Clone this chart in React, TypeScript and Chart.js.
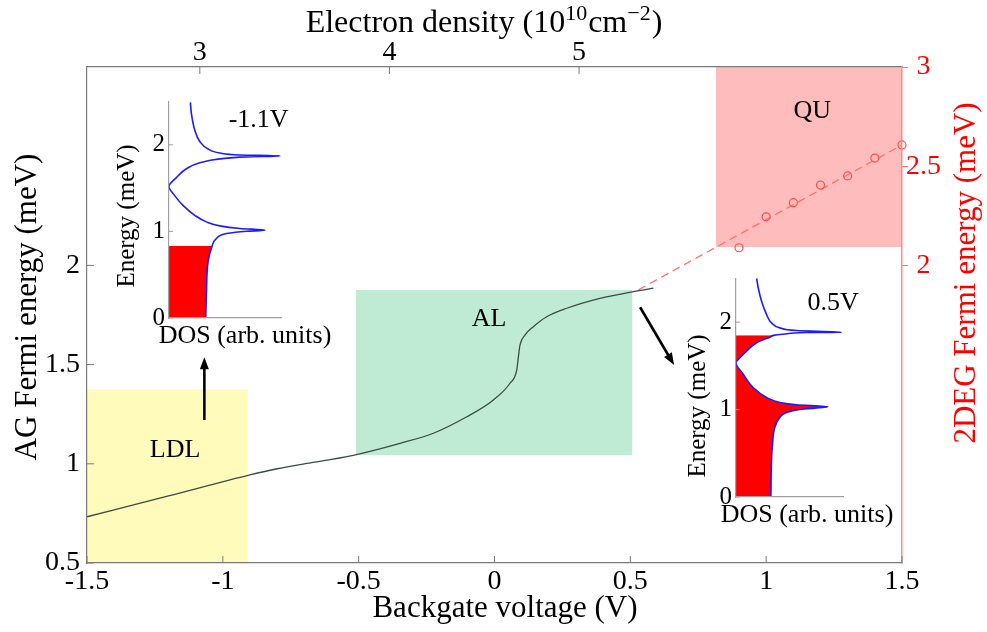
import React, { useEffect, useRef } from 'react';
import { Chart, registerables } from 'chart.js';

Chart.register(...registerables);

const SERIF = '"Liberation Serif", "Times New Roman", Times, serif';
Chart.defaults.font.family = SERIF;

// ---------- Main panel: AG Fermi energy vs backgate voltage ----------
const gateVoltage = [-1.5, -1.2, -0.9, -0.8, -0.7, -0.6, -0.5, -0.348, -0.225, -0.102, -0.004, 0.057, 0.082, 0.088, 0.094, 0.112, 0.143, 0.192, 0.266, 0.388, 0.511, 0.585];
const agFermiEnergy = [0.733, 0.838, 0.944, 0.975, 1.0, 1.022, 1.049, 1.103, 1.154, 1.237, 1.322, 1.406, 1.473, 1.54, 1.599, 1.649, 1.691, 1.741, 1.784, 1.834, 1.868, 1.885];

// 2DEG Fermi energy (right axis)
const degVoltage = [0.9, 1.0, 1.1, 1.2, 1.3, 1.4, 1.5];
const degFermiEnergy = [2.089, 2.245, 2.316, 2.405, 2.451, 2.541, 2.607];
const fitVoltage = [0.53, 1.5];
const fitEnergy = [1.877, 2.607];

// shaded regimes
const regionNames = ['LDL', 'AL', 'QU'];
const regionVoltageFrom = [-1.5, -0.51, 0.815];
const regionVoltageTo = [-0.908, 0.508, 1.5];
const regionEnergyFrom = [0.5, 1.044, 2.093];
const regionEnergyTo = [1.375, 1.876, 3.0];
const regionColors = ['#fffbbb', '#bfebd4', '#ffbcbc'];
const regionLabelVoltage = [-1.176, -0.02, 1.17];
const regionLabelEnergy = [1.07, 1.727, 2.775];

// arrows
const arrowFromVoltage = [-1.068, 0.536];
const arrowFromEnergy = [1.221, 1.789];
const arrowToVoltage = [-1.068, 0.661];
const arrowToEnergy = [1.537, 1.498];

// axes
const voltageTicks = [-1.5, -1, -0.5, 0, 0.5, 1, 1.5];
const agEnergyTicks = [0.5, 1, 1.5, 2];
const degEnergyTicks = [2, 2.5, 3];
const densityTicks = [3, 4, 5];
const voltageRange = [-1.5, 1.5];
const energyRange = [0.5, 3];
const densityRange = [2.405, 6.703];

// ---------- Insets: DOS vs energy ----------
const insetVoltageLabels = ['-1.1V', '0.5V'];
const insetEnergyTicks = [0, 1, 2];

const lowInsetEnergy = [0, 0.28, 0.65, 0.805, 0.919, 0.975, 1.002, 1.013, 1.034, 1.064, 1.11, 1.186, 1.3, 1.413, 1.519, 1.621, 1.723, 1.792, 1.837, 1.86, 1.871, 1.883, 1.905, 1.951, 2.038, 2.17, 2.36, 2.49];
const lowInsetDos = [0.328, 0.334, 0.349, 0.379, 0.424, 0.513, 0.693, 0.857, 0.633, 0.454, 0.334, 0.23, 0.125, 0.051, 0, 0.066, 0.155, 0.275, 0.454, 0.693, 0.991, 0.633, 0.454, 0.349, 0.275, 0.23, 0.2, 0.191];
const lowFilledEnergy = [0, 0.28, 0.65, 0.805, 0.83];
const lowFilledDos = [0.328, 0.334, 0.349, 0.379, 0.388];

const highInsetEnergy = [0, 0.417, 0.569, 0.797, 0.911, 0.968, 1.002, 1.032, 1.055, 1.082, 1.139, 1.252, 1.404, 1.537, 1.594, 1.67, 1.765, 1.829, 1.852, 1.867, 1.882, 1.886, 1.905, 1.935, 1.992, 2.087, 2.239, 2.391, 2.5];
const highInsetDos = [0.326, 0.332, 0.339, 0.363, 0.41, 0.472, 0.596, 0.86, 0.565, 0.41, 0.286, 0.161, 0.068, 0, 0.037, 0.099, 0.193, 0.317, 0.363, 0.472, 0.658, 0.984, 0.565, 0.41, 0.332, 0.286, 0.239, 0.208, 0.193];
const highFilledEnergy = [0, 0.417, 0.569, 0.797, 0.911, 0.968, 1.002, 1.032, 1.055, 1.082, 1.139, 1.252, 1.404, 1.537, 1.594, 1.67, 1.765, 1.829, 1.852];
const highFilledDos = [0.326, 0.332, 0.339, 0.363, 0.41, 0.472, 0.596, 0.86, 0.565, 0.41, 0.286, 0.161, 0.068, 0, 0.037, 0.099, 0.193, 0.317, 0.363];
const insetLabelDos = [0.8, 0.907];
const insetLabelEnergy = [2.29, 2.216];

const AXIS_GRAY = '#7a7a7a';
const RED = '#ff0000';

const pts = (xs: number[], ys: number[]) => xs.map((x, i) => ({ x, y: ys[i] }));
const fixTicks = (values: number[]) => (scale: any) => {
  scale.ticks = values.map((v) => ({ value: v }));
};
const plainLabel = (v: any) => String(v);

function drawArrow(ctx: CanvasRenderingContext2D, x0: number, y0: number, x1: number, y1: number) {
  const ang = Math.atan2(y1 - y0, x1 - x0);
  const c = Math.cos(ang), s = Math.sin(ang);
  const head = 12, half = 4.5;
  ctx.beginPath();
  ctx.moveTo(x0, y0);
  ctx.lineTo(x1 - head * 0.7 * c, y1 - head * 0.7 * s);
  ctx.stroke();
  const bx = x1 - head * c, by = y1 - head * s;
  ctx.beginPath();
  ctx.moveTo(x1, y1);
  ctx.lineTo(bx - half * s, by + half * c);
  ctx.lineTo(bx + half * s, by - half * c);
  ctx.closePath();
  ctx.fill();
}

function rotatedText(ctx: CanvasRenderingContext2D, text: string, x: number, y: number, color: string, font: string, baseline: CanvasTextBaseline) {
  ctx.save();
  ctx.translate(x, y);
  ctx.rotate(-Math.PI / 2);
  ctx.fillStyle = color;
  ctx.font = font;
  ctx.textAlign = 'center';
  ctx.textBaseline = baseline;
  ctx.fillText(text, 0, 0);
  ctx.restore();
}

const mainDecor = {
  id: 'mainDecor',
  afterDraw(chart: any) {
    const { ctx, chartArea: a, scales } = chart;
    const x = scales.x, y = scales.y, x2 = scales.x2;
    ctx.save();
    // inward tick marks
    ctx.strokeStyle = AXIS_GRAY;
    ctx.lineWidth = 1;
    ctx.beginPath();
    voltageTicks.forEach((v) => {
      const px = x.getPixelForValue(v);
      ctx.moveTo(px, a.bottom);
      ctx.lineTo(px, a.bottom - 7);
    });
    densityTicks.forEach((d) => {
      const px = x2.getPixelForValue(d);
      ctx.moveTo(px, a.top);
      ctx.lineTo(px, a.top + 7);
    });
    agEnergyTicks.forEach((e) => {
      const py = y.getPixelForValue(e);
      ctx.moveTo(a.left, py);
      ctx.lineTo(a.left + 7, py);
    });
    ctx.stroke();

    // regime labels
    ctx.fillStyle = '#000';
    ctx.font = `26px ${SERIF}`;
    ctx.textAlign = 'center';
    ctx.textBaseline = 'middle';
    regionNames.forEach((n, i) => {
      ctx.fillText(n, x.getPixelForValue(regionLabelVoltage[i]), y.getPixelForValue(regionLabelEnergy[i]));
    });

    // arrows
    ctx.strokeStyle = '#000';
    ctx.fillStyle = '#000';
    ctx.lineWidth = 2.6;
    arrowFromVoltage.forEach((v, i) => {
      drawArrow(
        ctx,
        x.getPixelForValue(v),
        y.getPixelForValue(arrowFromEnergy[i]),
        x.getPixelForValue(arrowToVoltage[i]),
        y.getPixelForValue(arrowToEnergy[i])
      );
    });

    // axis titles
    const titleFont = `31px ${SERIF}`;
    rotatedText(ctx, 'AG Fermi energy (meV)', 36, 307, '#000', titleFont, 'alphabetic');
    rotatedText(ctx, '2DEG Fermi energy (meV)', 967, 273, RED, titleFont, 'middle');
    ctx.fillStyle = '#000';
    ctx.font = titleFont;
    ctx.textAlign = 'center';
    ctx.textBaseline = 'alphabetic';
    ctx.fillText('Backgate voltage (V)', 505, 617);

    // top axis title with superscripts
    const parts: [string, boolean][] = [
      ['Electron density (10', false],
      ['10', true],
      ['cm', false],
      ['\u22122', true],
      [')', false],
    ];
    const big = `32px ${SERIF}`;
    const small = `22px ${SERIF}`;
    let total = 0;
    const widths = parts.map(([t, sup]) => {
      ctx.font = sup ? small : big;
      const w = ctx.measureText(t).width + (sup ? 1 : 0);
      total += w;
      return w;
    });
    let cx = 484 - total / 2;
    const baseline = 32;
    ctx.textAlign = 'left';
    parts.forEach(([t, sup], i) => {
      ctx.font = sup ? small : big;
      ctx.fillText(t, cx, sup ? baseline - 12 : baseline);
      cx += widths[i];
    });
    ctx.restore();
  },
};

function mainConfig(): any {
  const tickFont = { family: 'Liberation Serif', size: 28, lineHeight: 1 };
  return {
    type: 'line',
    data: {
      datasets: [
        {
          label: 'AG Fermi energy',
          data: pts(gateVoltage, agFermiEnergy),
          xAxisID: 'x',
          yAxisID: 'y',
          borderColor: '#3c4b43',
          borderWidth: 1.3,
          pointRadius: 0,
          cubicInterpolationMode: 'monotone',
          fill: false,
          order: 0,
        },
        {
          label: '2DEG Fermi energy',
          data: pts(degVoltage, degFermiEnergy),
          xAxisID: 'x',
          yAxisID: 'y2',
          showLine: false,
          pointStyle: 'circle',
          pointRadius: 4,
          pointBorderWidth: 1.2,
          pointBorderColor: '#ff4d4d',
          pointBackgroundColor: 'rgba(0,0,0,0)',
          borderColor: '#ff4d4d',
          backgroundColor: 'rgba(0,0,0,0)',
          clip: false,
          order: 0,
        },
        {
          label: 'fit',
          data: pts(fitVoltage, fitEnergy),
          xAxisID: 'x',
          yAxisID: 'y2',
          borderColor: '#ff6f6f',
          borderWidth: 1.3,
          borderDash: [8, 5],
          pointRadius: 0,
          fill: false,
          order: 1,
        },
        ...regionNames.map((name, i) => ({
          label: name,
          data: pts([regionVoltageFrom[i], regionVoltageTo[i]], [regionEnergyTo[i], regionEnergyTo[i]]),
          xAxisID: 'x',
          yAxisID: 'y',
          borderColor: 'rgba(0,0,0,0)',
          borderWidth: 0,
          backgroundColor: regionColors[i],
          pointRadius: 0,
          fill: { value: regionEnergyFrom[i] },
          order: 10,
        })),
      ],
    },
    options: {
      responsive: false,
      animation: false,
      events: [],
      layout: { padding: 0 },
      plugins: { legend: { display: false }, tooltip: { enabled: false } },
      scales: {
        x: {
          type: 'linear',
          position: 'bottom',
          min: voltageRange[0],
          max: voltageRange[1],
          afterBuildTicks: fixTicks(voltageTicks),
          grid: { display: false, drawTicks: false },
          border: { color: AXIS_GRAY, width: 1.2, z: 1 },
          ticks: { font: tickFont, color: '#000', padding: 5, maxRotation: 0, autoSkip: false, callback: plainLabel },
          afterFit: (s: any) => {
            s.height = 69;
          },
        },
        x2: {
          type: 'linear',
          position: 'top',
          min: densityRange[0],
          max: densityRange[1],
          afterBuildTicks: fixTicks(densityTicks),
          grid: { display: false, drawTicks: false },
          border: { color: AXIS_GRAY, width: 1.2, z: 1 },
          ticks: { font: tickFont, color: '#000', padding: 0, maxRotation: 0, autoSkip: false, callback: plainLabel },
          afterFit: (s: any) => {
            s.height = 67;
          },
        },
        y: {
          type: 'linear',
          position: 'left',
          min: energyRange[0],
          max: energyRange[1],
          afterBuildTicks: fixTicks(agEnergyTicks),
          grid: { display: false, drawTicks: false },
          border: { color: AXIS_GRAY, width: 1.2, z: 1 },
          ticks: { font: tickFont, color: '#000', padding: 7, callback: plainLabel },
          afterFit: (s: any) => {
            s.width = 87;
          },
        },
        y2: {
          type: 'linear',
          position: 'right',
          min: energyRange[0],
          max: energyRange[1],
          afterBuildTicks: fixTicks(degEnergyTicks),
          grid: { display: true, drawOnChartArea: false, drawTicks: true, tickLength: 6, tickColor: '#ff6f6f', color: '#ff6f6f' },
          border: { color: '#ff8a8a', width: 1.5, z: 1 },
          ticks: { font: tickFont, color: RED, padding: -2, crossAlign: 'center', callback: plainLabel },
          afterFit: (s: any) => {
            s.width = 85;
          },
        },
      },
    },
    plugins: [mainDecor],
  };
}

interface InsetSpec {
  energy: number[];
  dos: number[];
  fillEnergy: number[];
  fillDos: number[];
  label: string;
  labelDos: number;
  labelEnergy: number;
  yWidth: number;
  xHeight: number;
  padTop: number;
  padRight: number;
  dosLabelDx: number;
  dosLabelDy: number;
  energyLabelDx: number;
  energyLabelDy: number;
}

function insetConfig(p: InsetSpec): any {
  const decor = {
    id: 'insetDecor',
    afterDraw(chart: any) {
      const { ctx, chartArea: a, scales } = chart;
      const x = scales.x, y = scales.y;
      ctx.save();
      ctx.strokeStyle = '#a0a0a0';
      ctx.lineWidth = 1;
      ctx.beginPath();
      insetEnergyTicks.forEach((e) => {
        const py = y.getPixelForValue(e);
        ctx.moveTo(a.left, py);
        ctx.lineTo(a.left + 4, py);
      });
      ctx.stroke();
      ctx.fillStyle = '#000';
      ctx.textAlign = 'center';
      ctx.textBaseline = 'middle';
      ctx.font = `26px ${SERIF}`;
      ctx.fillText(p.label, x.getPixelForValue(p.labelDos), y.getPixelForValue(p.labelEnergy));
      ctx.fillText('DOS (arb. units)', a.left + p.dosLabelDx, a.bottom + p.dosLabelDy);
      rotatedText(ctx, 'Energy (meV)', a.left + p.energyLabelDx, a.bottom + p.energyLabelDy, '#000', `25px ${SERIF}`, 'middle');
      ctx.restore();
    },
  };
  return {
    type: 'line',
    data: {
      datasets: [
        {
          label: 'DOS',
          data: pts(p.dos, p.energy),
          borderColor: '#1c1cff',
          borderWidth: 1.6,
          pointRadius: 0,
          cubicInterpolationMode: 'monotone',
          fill: false,
          clip: false,
          order: 0,
        },
        {
          label: 'occupied',
          data: pts(p.fillDos, p.fillEnergy),
          borderColor: 'rgba(0,0,0,0)',
          borderWidth: 0,
          backgroundColor: '#ff0000',
          pointRadius: 0,
          cubicInterpolationMode: 'monotone',
          fill: 'origin',
          order: 1,
        },
      ],
    },
    options: {
      indexAxis: 'y',
      responsive: false,
      animation: false,
      events: [],
      layout: { padding: { top: p.padTop, right: p.padRight, left: 0, bottom: 0 } },
      plugins: { legend: { display: false }, tooltip: { enabled: false } },
      scales: {
        x: {
          type: 'linear',
          position: 'bottom',
          min: 0,
          max: 1,
          grid: { display: false, drawTicks: false },
          border: { color: '#a0a0a0', width: 1.2, z: 1 },
          ticks: { display: false },
          afterFit: (s: any) => {
            s.height = p.xHeight;
          },
        },
        y: {
          type: 'linear',
          position: 'left',
          min: 0,
          max: 2.5,
          afterBuildTicks: fixTicks(insetEnergyTicks),
          grid: { display: false, drawTicks: false },
          border: { color: '#a0a0a0', width: 1.2, z: 1 },
          ticks: { font: { family: 'Liberation Serif', size: 25, lineHeight: 1 }, color: '#000', padding: 4, callback: plainLabel },
          afterFit: (s: any) => {
            s.width = p.yWidth;
          },
        },
      },
    },
    plugins: [decor],
  };
}

const lowInset: InsetSpec = {
  energy: lowInsetEnergy,
  dos: lowInsetDos,
  fillEnergy: lowFilledEnergy,
  fillDos: lowFilledDos,
  label: insetVoltageLabels[0],
  labelDos: insetLabelDos[0],
  labelEnergy: insetLabelEnergy[0],
  yWidth: 74,
  xHeight: 37,
  padTop: 13,
  padRight: 54,
  dosLabelDx: 76,
  dosLabelDy: 18,
  energyLabelDx: -42,
  energyLabelDy: -102,
};

const highInset: InsetSpec = {
  energy: highInsetEnergy,
  dos: highInsetDos,
  fillEnergy: highFilledEnergy,
  fillDos: highFilledDos,
  label: insetVoltageLabels[1],
  labelDos: insetLabelDos[1],
  labelEnergy: insetLabelEnergy[1],
  yWidth: 86,
  xHeight: 35,
  padTop: 15,
  padRight: 52,
  dosLabelDx: 71,
  dosLabelDy: 18,
  energyLabelDx: -38,
  energyLabelDy: -91,
};

export default function App() {
  const mainRef = useRef<HTMLCanvasElement>(null);
  const lowRef = useRef<HTMLCanvasElement>(null);
  const highRef = useRef<HTMLCanvasElement>(null);

  useEffect(() => {
    const charts = [
      new Chart(mainRef.current as HTMLCanvasElement, mainConfig()),
      new Chart(lowRef.current as HTMLCanvasElement, insetConfig(lowInset)),
      new Chart(highRef.current as HTMLCanvasElement, insetConfig(highInset)),
    ];
    return () => charts.forEach((c) => c.destroy());
  }, []);

  return (
    <div style={{ position: 'absolute', left: 0, top: 0, width: 987, height: 632, background: '#fff', overflow: 'hidden' }}>
      <canvas ref={mainRef} width={987} height={632} style={{ position: 'absolute', left: 0, top: 0 }} />
      <canvas ref={lowRef} width={240} height={270} style={{ position: 'absolute', left: 95, top: 85 }} />
      <canvas ref={highRef} width={245} height={270} style={{ position: 'absolute', left: 650, top: 262 }} />
    </div>
  );
}
